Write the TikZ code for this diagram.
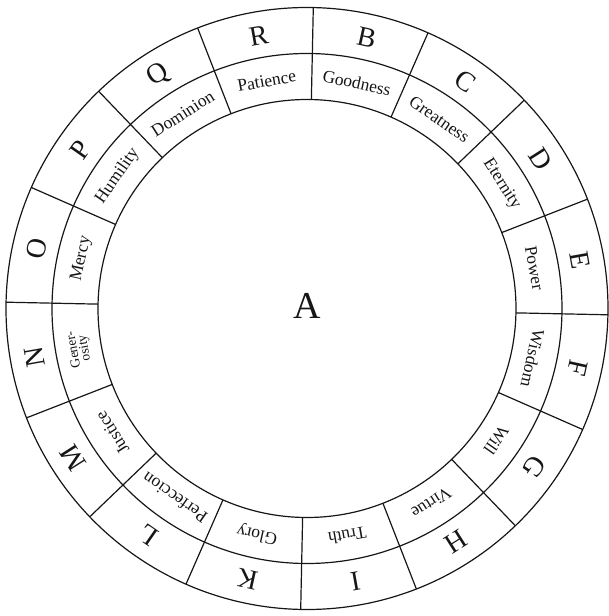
\documentclass[tikz,border=0pt]{standalone}
\usepackage{fontspec}
\setmainfont{Liberation Serif}
\usetikzlibrary{calc}
\definecolor{WheelInk}{HTML}{161616}
\tikzset{
  ringline/.style={WheelInk,line width=1.2pt},
  letterlabel/.style={inner sep=0pt,text=WheelInk,font=\fontsize{28}{28}\selectfont},
  wordlabel/.style={inner sep=0pt,text=WheelInk,font=\fontsize{17.5}{17.5}\selectfont},
  splitword/.style={inner sep=0pt,text=WheelInk,align=center,font=\fontsize{13.5}{11}\selectfont}
}

\begin{document}
\begin{tikzpicture}[x=1pt,y=1pt]
      \useasboundingbox (-307,-307.5) rectangle (301,308.5);
      \draw[ringline] (0,0) circle (301);
      \draw[ringline] (0,0) circle (255);
      \draw[ringline] (0,0) circle (209);
      \foreach \k in {0,...,15}
        \draw[ringline] ({88.8+22.5*\k}:209) -- ({88.8+22.5*\k}:301);
      \foreach \ltr/\word/\sty [count=\i from 0] in {B/Goodness/wordlabel,
          C/Greatness/wordlabel, D/Eternity/wordlabel, E/Power/wordlabel,
          F/Wisdom/wordlabel, G/Will/wordlabel, H/Virtue/wordlabel,
          I/Truth/wordlabel, K/Glory/wordlabel, L/Perfeccion/wordlabel,
          M/Justice/wordlabel, N/{Gener-\\osity}/splitword, O/Mercy/wordlabel,
          P/Humility/wordlabel, Q/Dominion/wordlabel, R/Patience/wordlabel} {
        \pgfmathsetmacro\ang{77.55-22.5*\i}
        \node[letterlabel,rotate=\ang-90] (letter-\ltr) at (\ang:277) {\ltr};
        \node[\sty,rotate=\ang-90] (word-\ltr) at (\ang:231) {\word};
      }
      \node[inner sep=0pt,text=WheelInk,font=\fontsize{38}{38}\selectfont]
        (centre-A) at (0,3) {A};
    \end{tikzpicture}
\end{document}
